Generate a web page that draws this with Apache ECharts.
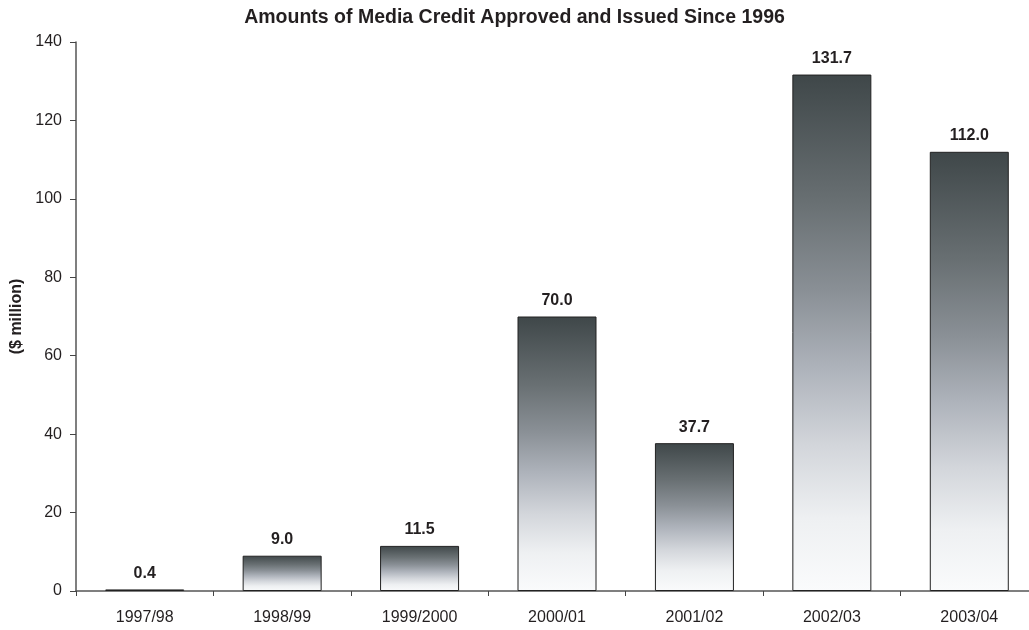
<!DOCTYPE html>
<html><head><meta charset="utf-8">
<script src="https://cdn.jsdelivr.net/npm/echarts@6/dist/echarts.min.js"></script>
<style>html,body{margin:0;padding:0;background:#fff}#c{width:1029px;height:630px}</style>
</head><body><div id="c"></div>
<script>
const categories = ['1997/98','1998/99','1999/2000','2000/01','2001/02','2002/03','2003/04'];
const amounts = [0.4, 9.0, 11.5, 70.0, 37.7, 131.7, 112.0];
const yTicks = [0, 20, 40, 60, 80, 100, 120, 140];
const titleText = 'Amounts of Media Credit Approved and Issued Since 1996';
const yName = '($ million)';

const font = '"Liberation Sans", Arial, Helvetica, sans-serif';
const chart = echarts.init(document.getElementById('c'), null, {renderer:'canvas'});
const grad = new echarts.graphic.LinearGradient(0,0,0,1,[
  {offset:0, color:'#3f4749'},
  {offset:0.25, color:'#697073'},
  {offset:0.42, color:'#8a9096'},
  {offset:0.57, color:'#aeb3bb'},
  {offset:0.72, color:'#d3d6db'},
  {offset:0.86, color:'#eef0f2'},
  {offset:1, color:'#fafbfc'}
]);
chart.setOption({
  animation:false,
  backgroundColor:'#fff',
  title:{text:titleText, left:'center', top:3,
    textStyle:{fontFamily:font, fontSize:19.5, fontWeight:'bold', color:'#231f20'}},
  grid:{left:76, top:42, width:962, height:549, containLabel:false, outerBoundsMode:'none'},
  xAxis:{type:'category', data:categories,
    axisLine:{lineStyle:{color:'#555', width:1.5}},
    axisTick:{show:true, length:5, alignWithLabel:false, lineStyle:{color:'#444'}},
    axisLabel:{fontFamily:font, fontSize:16, color:'#231f20', margin:19},
    splitLine:{show:false}},
  yAxis:{type:'value', min:0, max:140, interval:20,
    name:yName, nameLocation:'middle', nameGap:51, nameRotate:90,
    nameTextStyle:{fontFamily:font, fontSize:16, fontWeight:'bold', color:'#231f20'},
    axisLine:{show:true, lineStyle:{color:'#555', width:1.5}},
    axisTick:{show:true, length:6, lineStyle:{color:'#444'}},
    axisLabel:{fontFamily:font, fontSize:16, color:'#231f20', margin:14,
      formatter:v=>yTicks.includes(v)?String(v):''},
    splitLine:{show:false}},
  series:[{type:'bar', data:amounts, barWidth:79,
    itemStyle:{color:grad, borderColor:'#222', borderWidth:1},
    label:{show:true, position:'top', distance:8,
      fontFamily:font, fontSize:16, fontWeight:'bold', color:'#231f20',
      formatter:p=>p.value.toFixed(1)}}]
});
</script></body></html>
